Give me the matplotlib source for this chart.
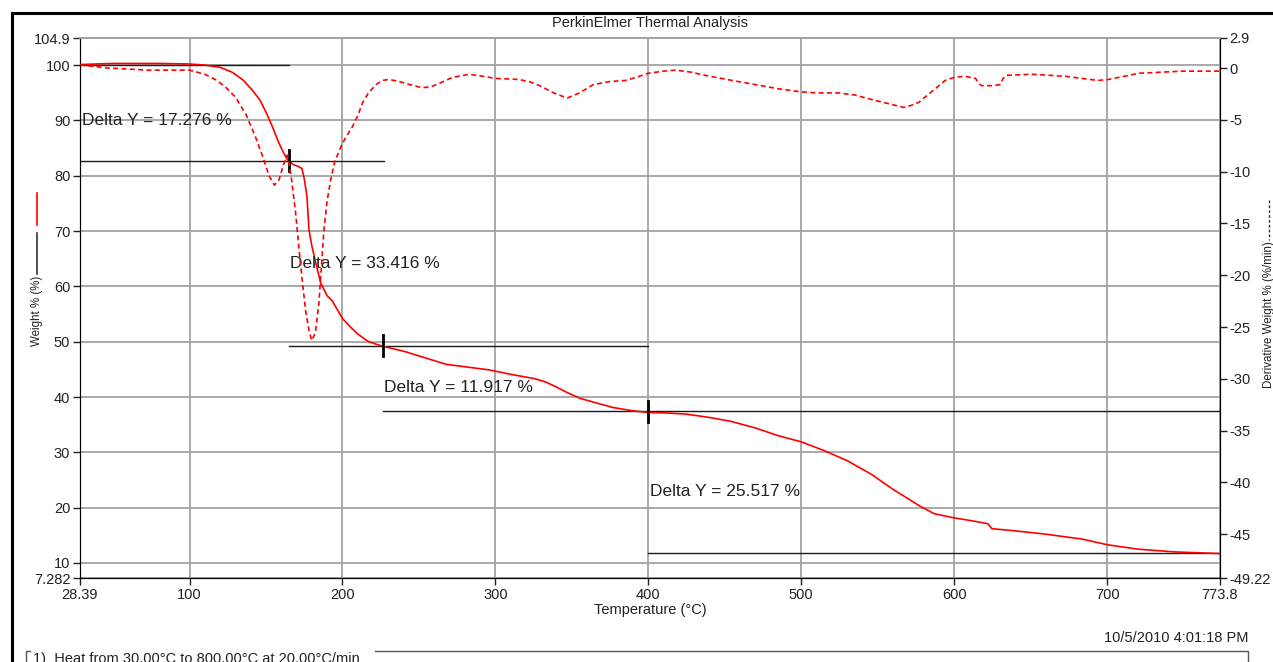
import matplotlib
matplotlib.use("Agg")
import matplotlib.pyplot as plt
from matplotlib.lines import Line2D

plt.rcParams['font.family'] = ['Liberation Sans', 'DejaVu Sans']

W, H = 1273, 662

# weight curve (solid)
temp_w = [28.39, 50, 80, 100, 110, 120, 128, 135, 141, 146, 150, 154, 158, 161, 164,
          165.5, 168, 171, 173.5, 175, 176.8, 178.1, 180, 182.5, 185.8, 190, 193.3, 200,
          205, 210, 217, 226, 241, 255, 268, 282, 296, 310, 318, 326, 333, 340, 347, 355,
          365, 377, 390, 400, 413, 425, 440, 454, 470, 485, 500, 515, 530, 546, 560, 570,
          578, 587, 599, 610, 622, 624.6, 640, 660, 684, 700, 720, 744, 773.8]
weight = [100.1, 100.3, 100.3, 100.2, 100.0, 99.6, 98.7, 97.3, 95.5, 93.7, 91.5, 89.0, 86.2, 84.4, 82.9,
          82.5, 82.0, 81.7, 81.3, 79.5, 76.2, 70.2, 67.3, 64.3, 60.6, 58.3, 57.4, 54.2,
          52.7, 51.4, 50.0, 49.2, 48.2, 47.0, 45.9, 45.4, 44.9, 44.1, 43.7, 43.3, 42.7, 41.8, 40.8, 39.8,
          39.0, 38.1, 37.5, 37.2, 37.1, 36.9, 36.3, 35.6, 34.4, 33.0, 31.9, 30.3, 28.5, 26.0, 23.3, 21.6,
          20.2, 18.9, 18.2, 17.7, 17.1, 16.2, 15.8, 15.2, 14.3, 13.3, 12.5, 12.0, 11.7]

# derivative curve (dashed)
temp_d = [28.39, 47, 73, 100, 110, 118, 124, 130, 137, 143, 148, 152, 155.5, 158.5, 161.5, 164,
          166.5, 169.4, 171.5, 173.7, 176, 178.1, 179.9, 181.5, 182.5, 184.6, 186.3, 187.9, 190,
          192.3, 195, 199.9, 203, 206.4, 210, 213, 217, 222, 226, 230.4, 237, 244, 252, 258, 263,
          272, 283, 292, 300, 315, 322, 329, 338, 347, 355, 364, 375, 385, 392, 400, 410, 418, 428,
          437, 455, 470, 485, 500, 510, 524, 535, 545, 556, 567, 572, 577, 581, 586, 594, 600, 607,
          614, 616, 618, 625, 630, 632, 634, 651, 673, 694, 701, 711, 721, 735, 749, 773.8]
deriv = [0.3, 0.0, -0.2, -0.2, -0.6, -1.2, -1.9, -2.8, -4.5, -6.6, -8.6, -10.4, -11.3, -10.8, -9.3, -8.4,
         -10.5, -14.0, -17.3, -20.5, -23.5, -25.3, -26.3, -25.8, -25.3, -22.7, -19.0, -15.6, -12.8,
         -10.8, -9.0, -7.3, -6.5, -5.7, -4.6, -3.4, -2.4, -1.6, -1.2, -1.1, -1.3, -1.6, -1.9, -1.8, -1.5,
         -0.9, -0.6, -0.8, -1.0, -1.1, -1.3, -1.7, -2.4, -2.9, -2.4, -1.6, -1.3, -1.2, -0.9, -0.5, -0.3, -0.2, -0.4,
         -0.7, -1.2, -1.6, -2.0, -2.3, -2.4, -2.4, -2.6, -3.0, -3.4, -3.8, -3.6, -3.3, -2.8, -2.2, -1.2, -0.9, -0.8,
         -1.0, -1.5, -1.7, -1.7, -1.6, -1.0, -0.7, -0.6, -0.8, -1.2, -1.1, -0.8, -0.5, -0.4, -0.3, -0.3]

# step analysis: horizontal levels and marks
level_y = [100.0, 82.72, 49.30, 37.39, 11.87]
level_x0 = [28.39, 28.39, 165.0, 226.5, 400.0]
level_x1 = [165.0, 227.0, 400.0, 773.8, 773.8]
mark_x = [165.0, 226.5, 400.0]
mark_y = [82.72, 49.30, 37.39]
delta_text = ["Delta Y = 17.276 %", "Delta Y = 33.416 %", "Delta Y = 11.917 %", "Delta Y = 25.517 %"]
delta_x = [29.5, 166.0, 227.0, 401.0]
delta_y = [90.0, 64.2, 41.7, 22.9]

x_ticks = [28.39, 100, 200, 300, 400, 500, 600, 700, 773.8]
x_labels = ["28.39", "100", "200", "300", "400", "500", "600", "700", "773.8"]
yl_ticks = [7.282, 10, 20, 30, 40, 50, 60, 70, 80, 90, 100, 104.9]
yl_labels = ["7.282", "10", "20", "30", "40", "50", "60", "70", "80", "90", "100", "104.9"]
yr_ticks = [-49.22, -45, -40, -35, -30, -25, -20, -15, -10, -5, 0, 2.9]
yr_labels = ["-49.22", "-45", "-40", "-35", "-30", "-25", "-20", "-15", "-10", "-5", "0", "2.9"]


def fx(px):
    return px / W


def fy(py):
    return 1 - py / H


fig = plt.figure(figsize=(W / 100, H / 100), dpi=100)
ax = fig.add_axes([fx(80), fy(578), fx(1220) - fx(80), fy(38) - fy(578)])
ax2 = ax.twinx()

grid_c = '#a3a3a3'
txt_c = '#222222'

ax.set_xlim(28.39, 773.8)
ax.set_ylim(7.282, 104.9)
ax2.set_ylim(-49.22, 2.9)

ax.set_xticks(x_ticks)
ax.set_xticklabels(x_labels)
ax.set_yticks(yl_ticks)
ax.set_yticklabels(yl_labels)
ax2.set_yticks(yr_ticks)
ax2.set_yticklabels(yr_labels)
ax.grid(True, color=grid_c, lw=1.3)
ax.set_axisbelow(True)

for a in (ax, ax2):
    a.tick_params(direction='out', length=5, width=1, colors=txt_c, labelsize=10.5, pad=2)
    a.spines['left'].set_color('black')
    a.spines['right'].set_color('black')
    a.spines['bottom'].set_color('black')
    a.spines['top'].set_color(grid_c)
    a.spines['top'].set_linewidth(1.3)

# weight curve and step annotations
ax.plot(temp_w, weight, color='red', lw=1.2, zorder=3)
for y, x0, x1 in zip(level_y, level_x0, level_x1):
    ax.plot([x0, x1], [y, y], color='#1a1a1a', lw=1.0, zorder=2)
for x, y in zip(mark_x, mark_y):
    ax.plot([x, x], [y - 1.9, y + 1.9], color='black', lw=2.0, zorder=4)
for t, x, y in zip(delta_text, delta_x, delta_y):
    ax.text(x, y, t, fontsize=12.5, color=txt_c, va='center', ha='left', zorder=5)

ax2.plot(temp_d, deriv, color='red', lw=1.2, dashes=(3, 2), zorder=3)

ax.set_xlabel("Temperature (°C)", fontsize=10.5, color=txt_c, labelpad=1)

# title and footer texts
fig.text(fx(650), fy(23), "PerkinElmer Thermal Analysis", ha='center', va='center', fontsize=10.5, color=txt_c)
fig.text(fx(1248), fy(638), "10/5/2010 4:01:18 PM", ha='right', va='center', fontsize=10.5, color=txt_c)
fig.text(fx(33), fy(652), "1)  Heat from 30.00°C to 800.00°C at 20.00°C/min", ha='left', va='top',
         fontsize=10.5, color=txt_c)

# left axis label with legend sample
fig.text(fx(37), fy(311), "Weight % (%)", rotation=90, ha='center', va='center', fontsize=8.3, color=txt_c)
fig.add_artist(Line2D([fx(37), fx(37)], [fy(193), fy(225)], color='red', lw=1.2))
fig.add_artist(Line2D([fx(37), fx(37)], [fy(233), fy(274)], color='#333333', lw=1.2))

# right axis label with legend sample
fig.text(fx(1269), fy(315), "Derivative Weight % (%/min)", rotation=90, ha='center', va='center',
         fontsize=8.3, color=txt_c)
fig.add_artist(Line2D([fx(1269), fx(1269)], [fy(200), fy(240)], color='#333333', lw=1.0, dashes=(2, 1.5)))

# outer frame and method box
fig.add_artist(Line2D([fx(12), fx(1273)], [fy(13), fy(13)], color='black', lw=2.2))
fig.add_artist(Line2D([fx(12), fx(12)], [fy(13), fy(662)], color='black', lw=2.2))
fig.add_artist(Line2D([fx(375), fx(1248), fx(1248)], [fy(651), fy(651), fy(662)], color='#555555', lw=1.0))
fig.add_artist(Line2D([fx(26), fx(26), fx(30)], [fy(662), fy(651), fy(651)], color='#555555', lw=1.0))

fig.savefig("out.png", dpi=100)
